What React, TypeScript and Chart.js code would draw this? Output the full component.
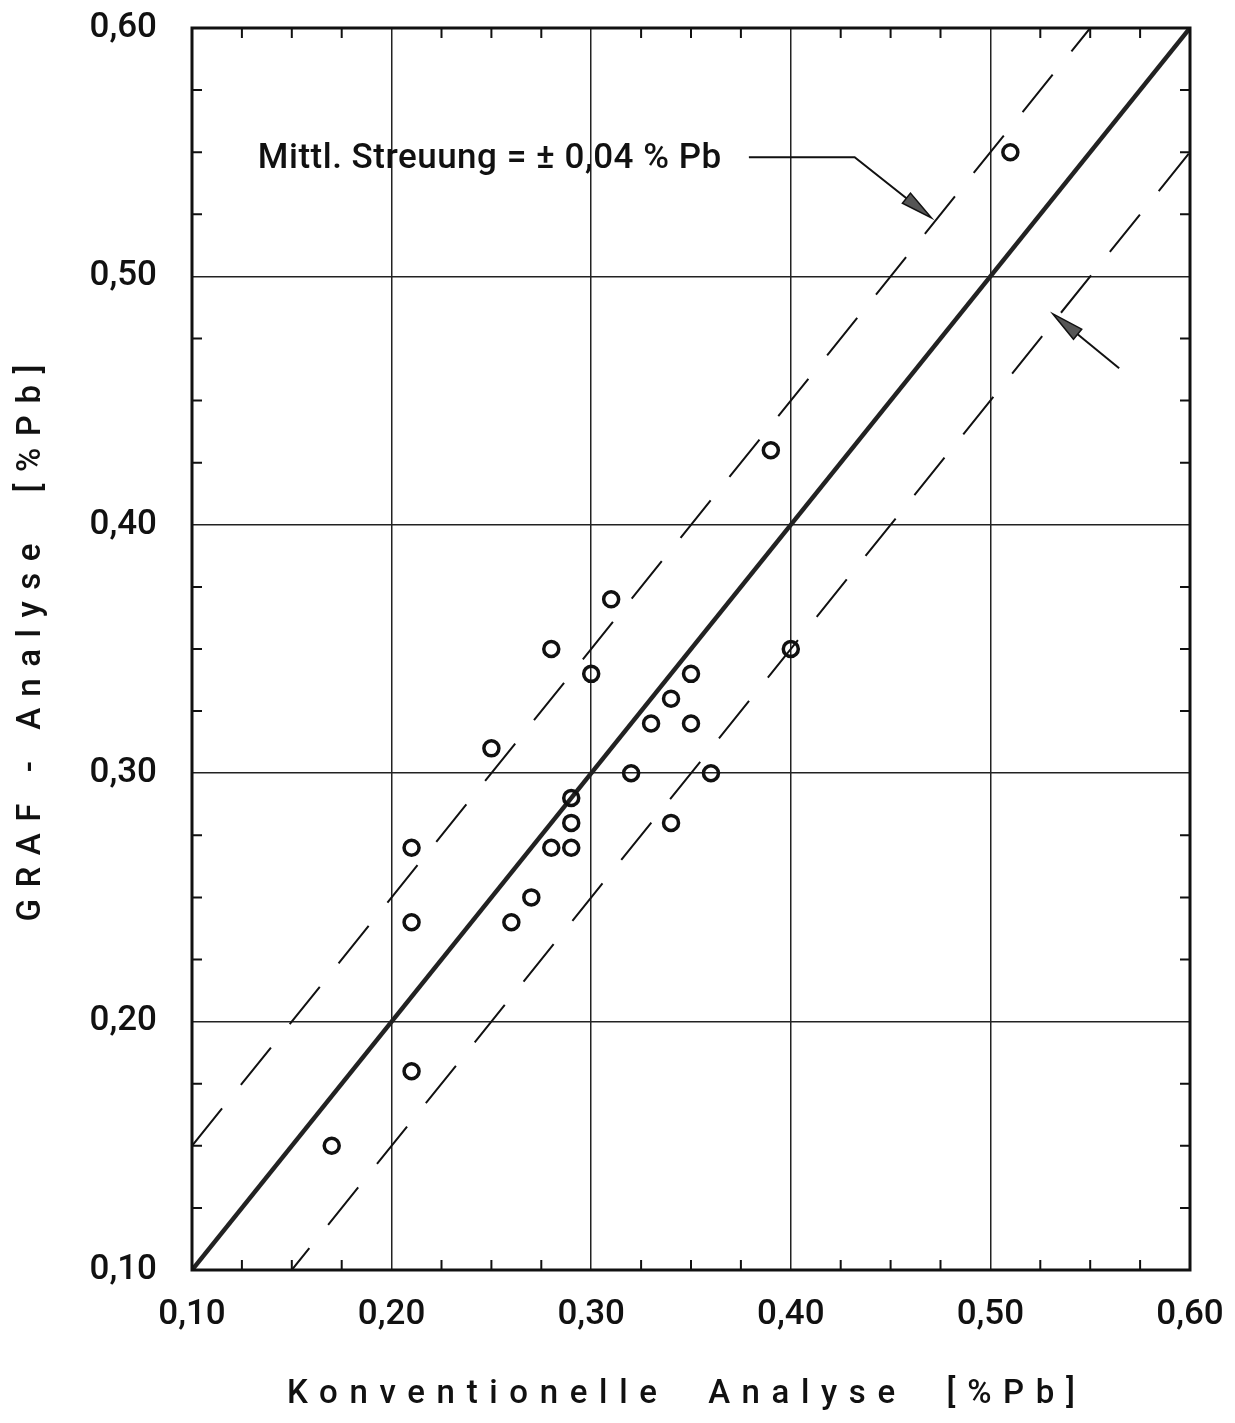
import React, { useEffect, useRef } from "react";
import { Chart, registerables } from "chart.js";

Chart.register(...registerables);

// ---- data ----
const conventional = [0.51, 0.39, 0.31, 0.28, 0.30, 0.35, 0.40, 0.34, 0.33, 0.35, 0.25, 0.32, 0.36, 0.29, 0.29, 0.34, 0.21, 0.28, 0.29, 0.27, 0.26, 0.21, 0.21, 0.17];
const grafAnalyse = [0.55, 0.43, 0.37, 0.35, 0.34, 0.34, 0.35, 0.33, 0.32, 0.32, 0.31, 0.30, 0.30, 0.29, 0.28, 0.28, 0.27, 0.27, 0.27, 0.25, 0.24, 0.24, 0.18, 0.15];
const identityX = [0.1, 0.6];
const identityY = [0.1, 0.6];
const upperX = [0.1, 0.55];
const upperY = [0.15, 0.6];
const lowerX = [0.15, 0.6];
const lowerY = [0.1, 0.55];
const axisMin = 0.1;
const axisMax = 0.6;
const majorStep = 0.1;
const minorStep = 0.025;
const annotationText = "Mittl. Streuung = ± 0,04 % Pb";
const annotationPos = [0.133, 0.547];
const arrow1Path = [[0.379, 0.548], [0.432, 0.548], [0.4705, 0.5235]];
const arrow2Path = [[0.5645, 0.463], [0.5313, 0.4849]];
const xTitle = "Konventionelle  Analyse  [%Pb]";
const yTitle = "GRAF - Analyse  [%Pb]";

const FONT = "Roboto, 'DejaVu Sans', sans-serif";
const fmt = (v: number) => v.toFixed(2).replace(".", ",");

const decorPlugin = {
  id: "decor",
  afterDraw(chart: any) {
    const ctx = chart.ctx as CanvasRenderingContext2D;
    const xs = chart.scales.x;
    const ys = chart.scales.y;
    const ca = chart.chartArea;
    ctx.save();
    // minor ticks inward on all four sides
    ctx.strokeStyle = "#111";
    ctx.lineWidth = 2;
    const n = Math.round((axisMax - axisMin) / minorStep);
    for (let i = 1; i < n; i++) {
      if (i % 4 === 0) continue;
      const v = axisMin + i * minorStep;
      const px = xs.getPixelForValue(v);
      const py = ys.getPixelForValue(v);
      ctx.beginPath();
      ctx.moveTo(px, ca.bottom); ctx.lineTo(px, ca.bottom - 10);
      ctx.moveTo(px, ca.top); ctx.lineTo(px, ca.top + 10);
      ctx.moveTo(ca.left, py); ctx.lineTo(ca.left + 10, py);
      ctx.moveTo(ca.right, py); ctx.lineTo(ca.right - 10, py);
      ctx.stroke();
    }
    // frame
    ctx.lineWidth = 3;
    ctx.strokeStyle = "#111";
    ctx.strokeRect(ca.left, ca.top, ca.right - ca.left, ca.bottom - ca.top);

    // annotation text
    ctx.fillStyle = "#111";
    ctx.font = `500 35px ${FONT}`;
    (ctx as any).letterSpacing = "0.5px";
    ctx.textAlign = "left";
    ctx.textBaseline = "middle";
    ctx.fillText(annotationText, xs.getPixelForValue(annotationPos[0]), ys.getPixelForValue(annotationPos[1]));
    (ctx as any).letterSpacing = "0px";

    const drawArrow = (path: number[][]) => {
      const pts = path.map((p) => [xs.getPixelForValue(p[0]), ys.getPixelForValue(p[1])]);
      const tip = pts[pts.length - 1];
      const prev = pts[pts.length - 2];
      const ang = Math.atan2(tip[1] - prev[1], tip[0] - prev[0]);
      const len = 32;
      const hw = 6.5;
      const bx = tip[0] - len * Math.cos(ang);
      const by = tip[1] - len * Math.sin(ang);
      ctx.strokeStyle = "#111";
      ctx.lineWidth = 2;
      ctx.beginPath();
      ctx.moveTo(pts[0][0], pts[0][1]);
      for (let i = 1; i < pts.length - 1; i++) ctx.lineTo(pts[i][0], pts[i][1]);
      ctx.lineTo(bx, by);
      ctx.stroke();
      ctx.beginPath();
      ctx.moveTo(tip[0], tip[1]);
      ctx.lineTo(bx + hw * Math.sin(ang), by - hw * Math.cos(ang));
      ctx.lineTo(bx - hw * Math.sin(ang), by + hw * Math.cos(ang));
      ctx.closePath();
      ctx.fillStyle = "#555";
      ctx.fill();
      ctx.lineWidth = 1.5;
      ctx.stroke();
    };
    drawArrow(arrow1Path);
    drawArrow(arrow2Path);

    // axis titles with letter spacing
    const spaced = (text: string, targetWidth: number) => {
      ctx.font = `500 33px ${FONT}`;
      (ctx as any).letterSpacing = "0px";
      const w0 = ctx.measureText(text).width;
      const sp = (targetWidth - w0) / (text.length - 1);
      (ctx as any).letterSpacing = `${sp}px`;
      return w0 + sp * (text.length - 1);
    };
    ctx.fillStyle = "#111";
    ctx.textAlign = "left";
    ctx.textBaseline = "middle";
    let w = spaced(xTitle, 788);
    const xc = (ca.left + ca.right) / 2 - 10;
    ctx.fillText(xTitle, xc - w / 2, 1395);
    w = spaced(yTitle, 557);
    ctx.save();
    ctx.translate(32, (ca.top + ca.bottom) / 2 - 6);
    ctx.rotate(-Math.PI / 2);
    ctx.fillText(yTitle, -w / 2, 0);
    ctx.restore();
    (ctx as any).letterSpacing = "0px";
    ctx.restore();
  },
};

export default function App() {
  const ref = useRef<HTMLCanvasElement | null>(null);
  useEffect(() => {
    if (!ref.current) return;
    const chart = new Chart(ref.current, {
      type: "scatter",
      data: {
        datasets: [
          {
            label: "Messwerte",
            data: conventional.map((x, i) => ({ x, y: grafAnalyse[i] })),
            pointStyle: "circle",
            pointRadius: 7.5,
            pointBorderWidth: 3.5,
            borderColor: "#111",
            backgroundColor: "rgba(255,255,255,0)",
            showLine: false,
            order: 0,
          },
          {
            label: "y = x",
            data: identityX.map((x, i) => ({ x, y: identityY[i] })),
            showLine: true,
            borderColor: "#222",
            borderWidth: 4.5,
            pointRadius: 0,
            order: 1,
          },
          {
            label: "+0,05",
            data: upperX.map((x, i) => ({ x, y: upperY[i] })),
            showLine: true,
            borderColor: "#111",
            borderWidth: 2,
            borderDash: [48, 30],
            pointRadius: 0,
            order: 2,
          },
          {
            label: "-0,05",
            data: lowerX.map((x, i) => ({ x, y: lowerY[i] })),
            showLine: true,
            borderColor: "#111",
            borderWidth: 2,
            borderDash: [48, 30],
            borderDashOffset: 20,
            pointRadius: 0,
            order: 3,
          },
        ],
      },
      options: {
        responsive: false,
        animation: false,
        layout: { padding: { left: 0, top: 28, right: 45, bottom: 0 } },
        plugins: { legend: { display: false }, tooltip: { enabled: false }, title: { display: false } },
        scales: {
          x: {
            type: "linear",
            min: axisMin,
            max: axisMax,
            afterFit: (s: any) => { s.height = 153; },
            ticks: {
              stepSize: majorStep,
              callback: (v: any) => fmt(Number(v)),
              font: { family: FONT, size: 35, weight: "500" },
              color: "#111",
              padding: 5,
              maxRotation: 0,
            },
            grid: { color: "#222", lineWidth: 1.5, drawTicks: true, tickLength: 19, tickColor: "rgba(0,0,0,0)" },
            border: { display: false },
          },
          y: {
            type: "linear",
            min: axisMin,
            max: axisMax,
            afterFit: (s: any) => { s.width = 192; },
            ticks: {
              stepSize: majorStep,
              callback: (v: any) => fmt(Number(v)),
              font: { family: FONT, size: 35, weight: "500" },
              color: "#111",
              padding: 5,
            },
            grid: { color: "#222", lineWidth: 1.5, drawTicks: true, tickLength: 30, tickColor: "rgba(0,0,0,0)" },
            border: { display: false },
          },
        },
      },
      plugins: [decorPlugin],
    });
    return () => chart.destroy();
  }, []);
  return (
    <div style={{ position: "absolute", left: 0, top: 0, width: 1235, height: 1423, background: "#fff" }}>
      <canvas ref={ref} width={1235} height={1423} style={{ display: "block", width: 1235, height: 1423 }} />
    </div>
  );
}
